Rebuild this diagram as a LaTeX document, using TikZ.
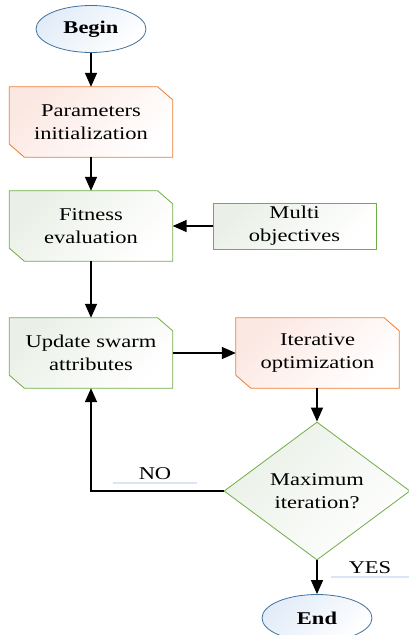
\documentclass[tikz,border=0pt]{standalone}
\usepackage{fontspec}
\setmainfont{Liberation Serif}[FakeStretch=1.25]
\usepackage{xcolor}
\usetikzlibrary{shapes.geometric,arrows.meta,positioning,shadows,backgrounds}
\definecolor{startblue}{RGB}{65,113,156}
\definecolor{startfill}{RGB}{226,236,248}
\definecolor{steporange}{RGB}{237,125,49}
\definecolor{stepfill}{RGB}{252,232,226}
\definecolor{stepgreen}{RGB}{112,173,71}
\definecolor{greenfill}{RGB}{234,240,231}
\definecolor{noteblue}{RGB}{214,226,244}

\begin{document}
\begin{tikzpicture}[
            x=1pt, y=-1pt,
            every node/.style={font=\fontsize{18}{23}\selectfont, align=center},
            terminal/.style={ellipse, draw=startblue, thick, minimum width=110pt, minimum height=47pt,
                top color=startfill, bottom color=white, shading angle=45, font=\fontsize{18}{23}\selectfont\bfseries},
            box/.style={rectangle, minimum width=163pt, minimum height=70pt, inner sep=0pt},
            outline/.style={thick, top color=#1, bottom color=white, shading angle=45},
            decision/.style={diamond, draw=stepgreen, thick, aspect=1.35, minimum width=186pt, minimum height=138pt,
                inner sep=0pt, top color=greenfill, bottom color=white, shading angle=45},
            tag/.style={fill=white, minimum height=16pt, inner sep=0pt,
                drop shadow={shadow xshift=0pt, shadow yshift=-1.5pt, fill=noteblue, opacity=0.9}},
            flow/.style={-{Triangle[width=12pt,length=14pt]}, line width=1.5pt},
        ]
            \useasboundingbox (0,0) rectangle (409,635);

            \node[terminal] (begin) at (91,29) {Begin};
            \node[box] (param) at (91,122) {Parameters\\initialization};
            \node[box] (fit) at (91,226) {Fitness\\evaluation};
            \node[draw=stepgreen, thick, minimum width=163pt, minimum height=46pt, inner sep=0pt,
                top color=greenfill, bottom color=white, shading angle=45] (multi) at (294.5,226) {Multi\\objectives};
            \node[box] (upd) at (91,353) {Update swarm\\attributes};
            \node[box] (iter) at (317.5,353) {Iterative\\optimization};
            \node[decision] (maxit) at (317,491) {Maximum\\iteration?};
            \node[terminal] (finish) at (317,618) {End};

            \node[tag, minimum width=84pt] (no) at (155,474) {NO};
            \node[tag, minimum width=78pt] (yes) at (370,568) {YES};

            % boxes with two cut corners
            \begin{scope}[on background layer]
                \foreach \n/\c/\f in {param/steporange/stepfill, fit/stepgreen/greenfill,
                                      upd/stepgreen/greenfill, iter/steporange/stepfill}
                    \path[outline=\f, draw=\c] (\n.north west) -- ([xshift=-15pt]\n.north east)
                        -- ([yshift=-13pt]\n.north east) -- (\n.south east)
                        -- ([xshift=15pt]\n.south west) -- ([yshift=13pt]\n.south west) -- cycle;
            \end{scope}

            \draw[flow] (begin) -- (param);
            \draw[flow] (param) -- (fit);
            \draw[flow] (fit) -- (upd);
            \draw[flow] (multi) -- (fit);
            \draw[flow] (upd) -- (iter);
            \draw[flow] (iter.south -| maxit) -- (maxit);
            \draw[flow] (maxit) -| (upd);
            \draw[flow] (maxit) -- (finish);
        \end{tikzpicture}
\end{document}
